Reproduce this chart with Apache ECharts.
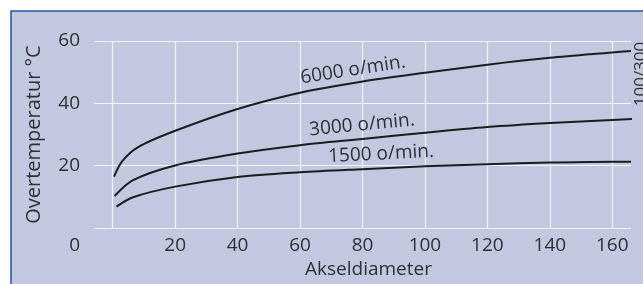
<!DOCTYPE html>
<html>
<head>
<meta charset="utf-8">
<script src="https://cdn.jsdelivr.net/npm/echarts@6/dist/echarts.min.js"></script>
<style>
  html, body { margin: 0; padding: 0; background: #fff; }
  #chart { width: 643px; height: 284px; }
</style>
</head>
<body>
<div id="chart"></div>
<script>
// values: [akseldiameter, overtemperatur]
const rpm6000 = [[0.4, 16.5], [3, 21.4], [8, 25.9], [20, 31.2], [40, 38.2], [60, 43.4], [80, 47.0], [100, 49.8], [120, 52.4], [140, 54.6], [160, 56.3], [166, 56.8]]
const rpm3000 = [[0.6, 10.3], [6.5, 15.4], [20, 20.1], [40, 23.9], [60, 26.6], [80, 28.6], [100, 30.6], [120, 32.4], [140, 33.7], [160, 34.7], [167, 35.0]]
const rpm1500 = [[1.2, 6.9], [6.5, 9.9], [20, 13.3], [40, 16.4], [60, 17.9], [80, 18.9], [100, 19.8], [120, 20.5], [140, 21.0], [160, 21.3], [166, 21.3]]
const xTicks = [0, 20, 40, 60, 80, 100, 120, 140, 160]
const xLabels = [20, 40, 60, 80, 100, 120, 140, 160]
const seriesNames = ['6000 o/min.', '3000 o/min.', '1500 o/min.']

const font = '"Open Sans", "DejaVu Sans", sans-serif'
const textColor = '#2e2e33'
const gridColor = '#f4f5fb'

const chart = echarts.init(document.getElementById('chart'))

const curve = (name, data) => ({
  name: name,
  type: 'line',
  data: data,
  smooth: 0.3,
  showSymbol: false,
  silent: true,
  lineStyle: { color: '#1c1c1e', width: 2 },
  z: 3
})

chart.setOption({
  animation: false,
  backgroundColor: '#ffffff',
  grid: { left: 94, right: 12, top: 41, bottom: 55 },
  xAxis: {
    type: 'value',
    min: -6,
    max: 166,
    name: 'Akseldiameter',
    nameLocation: 'middle',
    nameGap: 31,
    nameTextStyle: { fontFamily: font, fontSize: 19, color: textColor, padding: [0, 0, 0, 12] },
    axisLine: { show: false },
    axisTick: { show: false, customValues: xTicks },
    axisLabel: { customValues: xLabels, fontFamily: font, fontSize: 19, color: textColor, margin: 8 },
    splitLine: { show: true, lineStyle: { color: gridColor, width: 1.2 } }
  },
  yAxis: {
    type: 'value',
    min: 0,
    max: 60,
    interval: 20,
    name: 'Overtemperatur °C',
    nameLocation: 'middle',
    nameGap: 50,
    nameTextStyle: { fontFamily: font, fontSize: 20, color: textColor },
    axisLine: { show: false },
    axisTick: { show: false },
    axisLabel: {
      fontFamily: font, fontSize: 19, color: textColor, margin: 14,
      formatter: v => (v === 0 ? '' : String(v))
    },
    splitLine: { show: true, lineStyle: { color: gridColor, width: 1.2 } }
  },
  graphic: [
    {
      type: 'rect', z: -10, silent: true,
      shape: { x: 11, y: 11, width: 640, height: 280 },
      style: { fill: '#c3c8e1', stroke: '#2456a0', lineWidth: 1.5 }
    },
    {
      type: 'text', x: 80, y: 246, silent: true,
      style: { text: '0', font: '19px ' + font, fill: textColor, align: 'right', verticalAlign: 'middle' }
    },
    {
      type: 'text', x: 641, y: 74, rotation: Math.PI / 2, silent: true,
      style: { text: '100/300', font: '17px ' + font, fill: textColor, align: 'center', verticalAlign: 'middle' }
    },
    {
      type: 'text', x: 353, y: 70, rotation: 0.155, silent: true, z: 5,
      style: { text: seriesNames[0], font: '19px ' + font, fill: textColor, align: 'center', verticalAlign: 'middle' }
    },
    {
      type: 'text', x: 362, y: 125, rotation: 0.095, silent: true, z: 5,
      style: { text: seriesNames[1], font: '19px ' + font, fill: textColor, align: 'center', verticalAlign: 'middle' }
    },
    {
      type: 'text', x: 381, y: 154, rotation: 0.05, silent: true, z: 5,
      style: { text: seriesNames[2], font: '19px ' + font, fill: textColor, align: 'center', verticalAlign: 'middle' }
    }
  ],
  series: [
    curve(seriesNames[0], rpm6000),
    curve(seriesNames[1], rpm3000),
    curve(seriesNames[2], rpm1500)
  ]
})
</script>
</body>
</html>
